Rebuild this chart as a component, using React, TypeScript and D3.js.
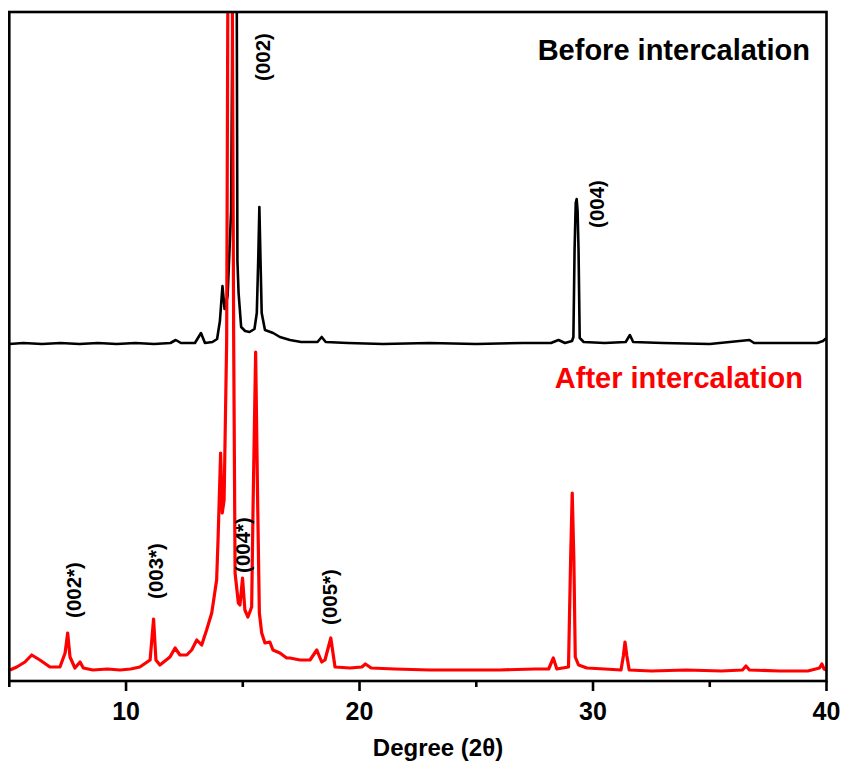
import React from "react";
import * as d3 from "d3";

// XRD patterns: [2θ (degree), intensity (a.u.)]
const beforePattern: [number, number][] = [
  [5.0, 337], [5.6, 338], [6.4, 337], [7.2, 338], [8.0, 337], [8.8, 338], [9.6, 337],
  [10.4, 338], [11.2, 337], [11.9, 338], [12.13, 341], [12.35, 338], [12.95, 338],
  [13.21, 348], [13.38, 338], [13.7, 339], [13.9, 342], [14.02, 360], [14.13, 395],
  [14.22, 372], [14.35, 385], [14.5, 470], [14.62, 900], [14.68, 1100], [14.74, 700],
  [14.77, 420], [14.82, 388], [14.93, 354], [15.1, 350], [15.29, 349], [15.5, 352],
  [15.6, 368], [15.66, 420], [15.71, 474], [15.76, 420], [15.81, 368], [15.95, 351],
  [16.3, 348], [16.59, 344], [17.02, 341], [17.5, 339], [18.2, 339], [18.38, 344],
  [18.55, 339], [19.5, 338], [21.0, 337], [23.0, 338], [25.0, 337], [27.0, 338],
  [28.2, 338], [28.52, 341], [28.8, 338], [29.1, 340], [29.16, 344], [29.21, 431],
  [29.26, 478], [29.3, 482], [29.34, 470], [29.38, 431], [29.43, 343], [29.6, 339],
  [30.5, 338], [31.4, 339], [31.58, 346], [31.72, 339], [33.0, 338], [35.0, 337],
  [36.7, 341], [36.9, 338], [38.5, 338], [39.6, 338], [39.85, 340], [40.0, 343],
];

const afterPattern: [number, number][] = [
  [5.03, 11], [5.32, 14], [5.67, 19], [5.96, 26], [6.31, 21], [6.74, 14], [7.17, 14],
  [7.39, 28], [7.5, 48], [7.6, 24], [7.81, 13], [8.03, 19], [8.17, 13], [8.58, 11],
  [9.2, 12], [9.74, 11], [10.2, 12], [10.59, 14], [11.03, 21], [11.18, 62], [11.28, 21],
  [11.45, 16], [11.88, 24], [12.1, 33], [12.31, 26], [12.6, 26], [12.81, 31],
  [13.03, 41], [13.24, 36], [13.45, 51], [13.67, 68], [13.88, 101], [13.94, 141],
  [14.05, 228], [14.12, 168], [14.2, 181], [14.31, 341], [14.42, 1100], [14.55, 700],
  [14.61, 341], [14.67, 108], [14.81, 78], [14.88, 76], [14.99, 103], [15.09, 71],
  [15.22, 64], [15.38, 74], [15.44, 174], [15.55, 329], [15.64, 174], [15.71, 68],
  [15.81, 48], [15.95, 38], [16.16, 39], [16.29, 31], [16.59, 28], [16.88, 23],
  [17.02, 23], [17.45, 21], [17.88, 21], [18.17, 31], [18.38, 19], [18.52, 21],
  [18.77, 43], [18.95, 14], [19.59, 13], [20.1, 14], [20.25, 17], [20.5, 13],
  [21.5, 12], [23.0, 11], [24.5, 11], [26.0, 11], [27.5, 12], [28.1, 12], [28.3, 23],
  [28.45, 12], [28.95, 14], [29.04, 121], [29.11, 188], [29.18, 121], [29.24, 24],
  [29.38, 16], [29.74, 13], [30.5, 12], [31.2, 11], [31.3, 25], [31.37, 39],
  [31.45, 25], [31.55, 11], [32.5, 10], [34.0, 11], [35.5, 10], [36.4, 11],
  [36.55, 15], [36.7, 11], [38.0, 10], [39.2, 10], [39.7, 13], [39.8, 17],
  [39.9, 12], [40.0, 11],
];

const xTicks = [10, 20, 30, 40];
const xMinorTicks = [5, 15, 25, 35];

// Peak annotations: [label, 2θ position, intensity at label centre]
const peakLabels: [string, number, number][] = [
  ["(002)", 15.85, 624],
  ["(004)", 30.15, 477],
  ["(002*)", 7.73, 91],
  ["(003*)", 11.25, 110],
  ["(004*)", 14.98, 136],
  ["(005*)", 18.7, 84],
];

const WIDTH = 848;
const HEIGHT = 766;
const LEFT = 9.3;
const RIGHT = 826.5;
const TOP = 12;
const BOTTOM = 681;

export default function App() {
  const x = d3.scaleLinear().domain([5, 40]).range([LEFT, RIGHT]);
  const y = d3.scaleLinear().domain([0, 669]).range([BOTTOM, TOP]);
  const line = d3
    .line<[number, number]>()
    .x((d) => x(d[0]))
    .y((d) => y(d[1]));

  const font = "Arial, 'Liberation Sans', sans-serif";

  return (
    <svg
      width={WIDTH}
      height={HEIGHT}
      style={{ position: "absolute", left: 0, top: 0, background: "#fff" }}
    >
      <defs>
        <clipPath id="plot-area">
          <rect x={LEFT} y={TOP} width={RIGHT - LEFT} height={BOTTOM - TOP} />
        </clipPath>
      </defs>
      <rect width={WIDTH} height={HEIGHT} fill="#fff" />

      <g clipPath="url(#plot-area)">
        <path
          d={line(beforePattern) ?? ""}
          fill="none"
          stroke="#000"
          strokeWidth={2.6}
          strokeLinejoin="round"
        />
        <path
          d={line(afterPattern) ?? ""}
          fill="none"
          stroke="#ff0000"
          strokeWidth={3.2}
          strokeLinejoin="round"
        />
      </g>

      {/* frame */}
      <rect
        x={LEFT}
        y={TOP}
        width={RIGHT - LEFT}
        height={BOTTOM - TOP}
        fill="none"
        stroke="#000"
        strokeWidth={2.6}
      />

      {/* x ticks */}
      {xTicks.map((t) => (
        <line key={"M" + t} x1={x(t)} x2={x(t)} y1={BOTTOM} y2={BOTTOM + 10} stroke="#000" strokeWidth={2.6} />
      ))}
      {xMinorTicks.map((t) => (
        <line key={"m" + t} x1={x(t)} x2={x(t)} y1={BOTTOM} y2={BOTTOM + 6} stroke="#000" strokeWidth={2.6} />
      ))}
      {xTicks.map((t) => (
        <text
          key={"L" + t}
          x={x(t)}
          y={720}
          textAnchor="middle"
          fontFamily={font}
          fontWeight="bold"
          fontSize={25}
          fill="#000"
        >
          {t}
        </text>
      ))}
      <text
        x={438}
        y={756}
        textAnchor="middle"
        fontFamily={font}
        fontWeight="bold"
        fontSize={24}
        fill="#000"
      >
        Degree (2θ)
      </text>

      <text x={810} y={60} textAnchor="end" fontFamily={font} fontWeight="bold" fontSize={29} fill="#000">
        Before intercalation
      </text>
      <text x={803} y={388} textAnchor="end" fontFamily={font} fontWeight="bold" fontSize={29} fill="#ff0000">
        After intercalation
      </text>

      {peakLabels.map(([label, pos, v]) => (
        <text
          key={label}
          transform={`translate(${x(pos)},${y(v)}) rotate(-90)`}
          textAnchor="middle"
          dominantBaseline="central"
          fontFamily={font}
          fontWeight="bold"
          fontSize={20.5}
          fill="#000"
        >
          {label}
        </text>
      ))}
    </svg>
  );
}
